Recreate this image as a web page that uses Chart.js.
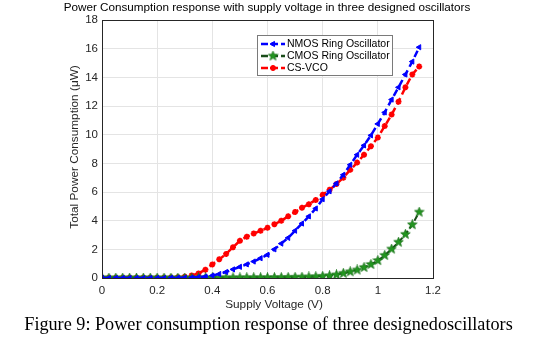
<!DOCTYPE html>
<html>
<head>
<meta charset="utf-8">
<script src="https://cdn.jsdelivr.net/npm/chart.js@4.4.1/dist/chart.umd.min.js"></script>
<style>
  html, body { margin: 0; padding: 0; background: #fff; }
  #wrap { position: relative; width: 537px; height: 345px; }
  #caption {
    position: absolute; left: 0; top: 314px; width: 537px; text-align: center;
    font-family: "Liberation Serif", "Times New Roman", serif; font-size: 18.2px; color: #000;
  }
</style>
</head>
<body>
<div id="wrap">
  <canvas id="powerChart" width="537" height="315"></canvas>
  <div id="caption">Figure 9: Power consumption response of three designedoscillators</div>
</div>
<script>
// supply voltage (V)
var voltage = [0, 0.025, 0.05, 0.075, 0.1, 0.125, 0.15, 0.175, 0.2, 0.225,
               0.25, 0.275, 0.3, 0.325, 0.35, 0.375, 0.4, 0.425, 0.45, 0.475,
               0.5, 0.525, 0.55, 0.575, 0.6, 0.625, 0.65, 0.675, 0.7, 0.725,
               0.75, 0.775, 0.8, 0.825, 0.85, 0.875, 0.9, 0.925, 0.95, 0.975,
               1.0, 1.025, 1.05, 1.075, 1.1, 1.125, 1.15];

// total power consumption (uW)
var nmosPower = [0, 0, 0, 0, 0, 0, 0, 0, 0, 0,
                 0.01, 0.01, 0.02, 0.03, 0.06, 0.1, 0.17, 0.28, 0.42, 0.6,
                 0.78, 0.95, 1.15, 1.38, 1.62, 2.0, 2.4, 2.8, 3.3, 3.8,
                 4.3, 4.85, 5.5, 6.05, 6.6, 7.2, 7.9, 8.6, 9.25, 9.95,
                 10.75, 11.55, 12.45, 13.3, 14.2, 15.1, 16.1];

var cmosPower = [0, 0, 0, 0, 0, 0, 0, 0, 0, 0,
                 0, 0, 0, 0, 0.01, 0.01, 0.01, 0.01, 0.01, 0.01,
                 0.01, 0.02, 0.02, 0.02, 0.02, 0.03, 0.03, 0.04, 0.05, 0.06,
                 0.07, 0.09, 0.12, 0.16, 0.22, 0.33, 0.44, 0.56, 0.74, 0.95,
                 1.22, 1.58, 2.02, 2.5, 3.05, 3.72, 4.6];

var csvcoPower = [0.02, 0.02, 0.02, 0.02, 0.02, 0.02, 0.02, 0.02, 0.02, 0.02,
                  0.03, 0.05, 0.09, 0.17, 0.32, 0.58, 0.95, 1.3, 1.68, 2.15,
                  2.6, 2.88, 3.1, 3.3, 3.5, 3.75, 4.0, 4.3, 4.6, 4.9,
                  5.15, 5.45, 5.8, 6.15, 6.55, 7.0, 7.55, 8.05, 8.6, 9.2,
                  9.8, 10.6, 11.4, 12.3, 13.3, 14.2, 14.75];

var seriesNames = ['NMOS Ring Oscillator', 'CMOS Ring Oscillator', 'CS-VCO'];
var xTicks = [0, 0.2, 0.4, 0.6, 0.8, 1, 1.2];
var yTicks = [0, 2, 4, 6, 8, 10, 12, 14, 16, 18];

function toPoints(ys) {
    var pts = [];
    for (var i = 0; i < voltage.length; i++) {
        pts.push({ x: voltage[i], y: ys[i] });
    }
    return pts;
}

// filled pentagram marker (matlab 'p')
function makePentagram(fill, stroke) {
    var c = document.createElement('canvas');
    c.width = 11; c.height = 11;
    var g = c.getContext('2d');
    g.beginPath();
    for (var i = 0; i < 10; i++) {
        var r = (i % 2 === 0) ? 5 : 2.1;
        var a = -Math.PI / 2 + i * Math.PI / 5;
        var px = 5.5 + r * Math.cos(a), py = 5.5 + r * Math.sin(a);
        if (i === 0) g.moveTo(px, py); else g.lineTo(px, py);
    }
    g.closePath();
    g.fillStyle = fill;
    g.fill();
    g.strokeStyle = stroke;
    g.lineWidth = 0.8;
    g.stroke();
    return c;
}
var greenStar = makePentagram('#22961f', '#157015');

var font = '"Liberation Sans", Arial, sans-serif';
var axisColor = '#262626';

// frame, titles and legend drawn like the matlab figure
var decor = {
    id: 'decor',
    afterDraw: function (chart) {
        var ctx = chart.ctx, a = chart.chartArea;
        ctx.save();
        ctx.strokeStyle = axisColor;
        ctx.lineWidth = 1;
        ctx.strokeRect(a.left + 0.5, a.top + 0.5, a.right - a.left, a.bottom - a.top);

        ctx.fillStyle = '#000';
        ctx.font = '11.7px ' + font;
        ctx.textAlign = 'center';
        ctx.textBaseline = 'middle';
        ctx.fillText('Power Consumption response with supply voltage in three designed oscillators', 267, 8);
        ctx.fillStyle = axisColor;
        ctx.font = '11.8px ' + font;
        ctx.fillText('Supply Voltage (V)', 274, 305);
        ctx.save();
        ctx.translate(75, 147);
        ctx.rotate(-Math.PI / 2);
        ctx.fillText('Total Power Consumption (\u03bcW)', 0, 0);
        ctx.restore();

        // legend box
        var lx = 257, ly = 35, lw = 135, lh = 40;
        ctx.fillStyle = '#fff';
        ctx.fillRect(lx, ly, lw, lh);
        ctx.strokeStyle = '#7a7a7a';
        ctx.lineWidth = 1;
        ctx.strokeRect(lx + 0.5, ly + 0.5, lw, lh);
        var rows = [44, 56, 68];
        chart.data.datasets.forEach(function (ds, i) {
            var y = rows[i];
            ctx.strokeStyle = ds.borderColor;
            ctx.lineWidth = 2.5;
            ctx.setLineDash([7, 3]);
            ctx.beginPath();
            ctx.moveTo(261, y);
            ctx.lineTo(285, y);
            ctx.stroke();
            ctx.setLineDash([]);
            ctx.strokeStyle = ds.pointBorderColor || ds.borderColor;
            ctx.fillStyle = ds.pointBackgroundColor || ds.backgroundColor;
            ctx.lineWidth = ds.pointBorderWidth;
            Chart.helpers.drawPoint(ctx, {
                pointStyle: ds.pointStyle,
                rotation: ds.pointRotation || 0,
                radius: ds.pointRadius,
                borderWidth: ds.pointBorderWidth
            }, 273, y);
            ctx.fillStyle = '#000';
            ctx.font = '10.5px ' + font;
            ctx.textAlign = 'left';
            ctx.fillText(ds.label, 287, y + 0.5);
        });
        ctx.restore();
    }
};

var ctx = document.getElementById('powerChart').getContext('2d');
new Chart(ctx, {
    type: 'line',
    data: {
        datasets: [
            {
                label: seriesNames[0],
                data: toPoints(nmosPower),
                borderColor: '#0000ff',
                backgroundColor: '#0000ff',
                borderWidth: 2.5,
                borderDash: [7, 4],
                pointStyle: 'triangle',
                pointRotation: 270,
                pointRadius: 3,
                pointBorderWidth: 1,
                pointBorderColor: '#0000ff',
                pointBackgroundColor: '#0000ff',
                tension: 0
            },
            {
                label: seriesNames[1],
                data: toPoints(cmosPower),
                borderColor: '#1a4d1a',
                backgroundColor: '#22961f',
                borderWidth: 2,
                borderDash: [6, 3],
                pointStyle: greenStar,
                pointRadius: 5,
                pointBorderWidth: 1,
                tension: 0
            },
            {
                label: seriesNames[2],
                data: toPoints(csvcoPower),
                borderColor: '#ff0000',
                backgroundColor: '#ff0000',
                borderWidth: 2.5,
                borderDash: [7, 4],
                pointStyle: 'star',
                pointRadius: 3,
                pointBorderWidth: 1.8,
                pointBorderColor: '#ff0000',
                pointBackgroundColor: '#ff0000',
                tension: 0
            }
        ]
    },
    options: {
        responsive: false,
        animation: false,
        devicePixelRatio: 1,
        layout: { padding: { top: 20, right: 104, left: 0, bottom: 0 } },
        plugins: {
            legend: { display: false },
            title: { display: false },
            tooltip: { enabled: false }
        },
        scales: {
            x: {
                type: 'linear',
                min: 0,
                max: 1.2,
                afterFit: function (s) { s.height = 37; },
                afterBuildTicks: function (s) { s.ticks = xTicks.map(function (v) { return { value: v }; }); },
                grid: { color: '#e4e4e4', drawTicks: false },
                border: { color: axisColor },
                ticks: {
                    padding: 6,
                    color: axisColor,
                    font: { family: font, size: 11.5 },
                    maxRotation: 0,
                    callback: function (v) { return String(Math.round(v * 10) / 10); }
                }
            },
            y: {
                min: 0,
                max: 18,
                afterFit: function (s) { s.width = 102; },
                afterBuildTicks: function (s) { s.ticks = yTicks.map(function (v) { return { value: v }; }); },
                grid: { color: '#e4e4e4', drawTicks: false },
                border: { color: axisColor },
                ticks: {
                    padding: 4,
                    color: axisColor,
                    font: { family: font, size: 11.5 }
                }
            }
        }
    },
    plugins: [decor]
});
</script>
</body>
</html>
